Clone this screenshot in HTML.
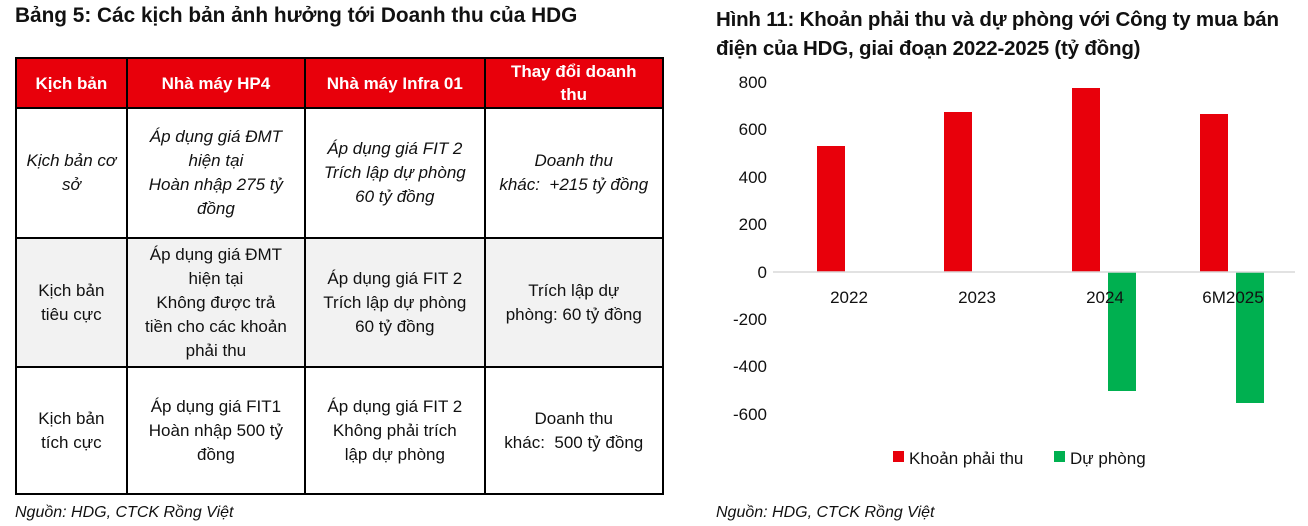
<!DOCTYPE html>
<html><head><meta charset="utf-8"><style>
body{margin:0;width:1308px;height:526px;background:#fff;font-family:"Liberation Sans",sans-serif;position:relative;overflow:hidden;color:#111}
.t{position:absolute;font-weight:bold;font-size:20px;letter-spacing:0px}
table{position:absolute;left:15px;top:57px;border-collapse:collapse;width:649px}
td{border:2px solid #000;text-align:center;vertical-align:middle;font-size:17px;line-height:24px;padding:0 2px}
tr.h td{background:#e8000b;color:#fff;font-weight:bold;height:48px;line-height:23px}
tr.r1 td{height:128px;font-style:italic}
tr.r2 td{height:127px;background:#f2f2f2}
tr.r3 td{height:125px}
.src{position:absolute;font-style:italic;font-size:16px;top:504px}
</style></head><body>
<div class="t" style="left:15px;top:4px;font-size:20.8px">Bảng 5: Các kịch bản ảnh hưởng tới Doanh thu của HDG</div>
<table>
<colgroup><col style="width:111px"><col style="width:179px"><col style="width:180px"><col style="width:179px"></colgroup>
<tr class="h"><td>Kịch bản</td><td>Nhà máy HP4</td><td>Nhà máy Infra 01</td><td>Thay đổi doanh<br>thu</td></tr>
<tr class="r1"><td>Kịch bản cơ<br>sở</td><td>Áp dụng giá ĐMT<br>hiện tại<br>Hoàn nhập 275 tỷ<br>đồng</td><td>Áp dụng giá FIT 2<br>Trích lập dự phòng<br>60 tỷ đồng</td><td>Doanh thu<br>khác: &nbsp;+215 tỷ đồng</td></tr>
<tr class="r2"><td>Kịch bản<br>tiêu cực</td><td>Áp dụng giá ĐMT<br>hiện tại<br>Không được trả<br>tiền cho các khoản<br>phải thu</td><td>Áp dụng giá FIT 2<br>Trích lập dự phòng<br>60 tỷ đồng</td><td>Trích lập dự<br>phòng: 60 tỷ đồng</td></tr>
<tr class="r3"><td>Kịch bản<br>tích cực</td><td>Áp dụng giá FIT1<br>Hoàn nhập 500 tỷ<br>đồng</td><td>Áp dụng giá FIT 2<br>Không phải trích<br>lập dự phòng</td><td>Doanh thu<br>khác: &nbsp;500 tỷ đồng</td></tr>
</table>
<div class="src" style="left:15px">Nguồn: HDG, CTCK Rồng Việt</div>
<div class="t" style="left:716px;top:5px;line-height:29px;font-size:20.5px;letter-spacing:-0.2px;white-space:nowrap">Hình 11: Khoản phải thu và dự phòng với Công ty mua bán<br>điện của HDG, giai đoạn 2022-2025 (tỷ đồng)</div>
<svg style="position:absolute;left:0;top:0" width="1308" height="526" font-family="Liberation Sans, sans-serif" font-size="17" fill="#111">
<g text-anchor="end">
<text x="767" y="88">800</text><text x="767" y="135">600</text><text x="767" y="183">400</text><text x="767" y="230">200</text><text x="767" y="278">0</text><text x="767" y="325">-200</text><text x="767" y="372">-400</text><text x="767" y="420">-600</text>
</g>
<g fill="#e8000b">
<rect x="817" y="146" width="28" height="126"/><rect x="944" y="112" width="28" height="160"/><rect x="1072" y="88" width="28" height="184"/><rect x="1200" y="114" width="28" height="158"/>
</g>
<g fill="#00b050">
<rect x="1108" y="272" width="28" height="119"/><rect x="1236" y="272" width="28" height="131"/>
</g>
<line x1="773" y1="272" x2="1295" y2="272" stroke="#d9d9d9" stroke-width="1.5"/>
<g text-anchor="middle">
<text x="849" y="303">2022</text><text x="977" y="303">2023</text><text x="1105" y="303">2024</text><text x="1233" y="303">6M2025</text>
</g>
<rect x="893" y="451" width="11" height="11" fill="#e8000b"/><text x="909" y="464">Khoản phải thu</text>
<rect x="1054" y="451" width="11" height="11" fill="#00b050"/><text x="1070" y="464">Dự phòng</text>
</svg>
<div class="src" style="left:716px">Nguồn: HDG, CTCK Rồng Việt</div>
</body></html>
